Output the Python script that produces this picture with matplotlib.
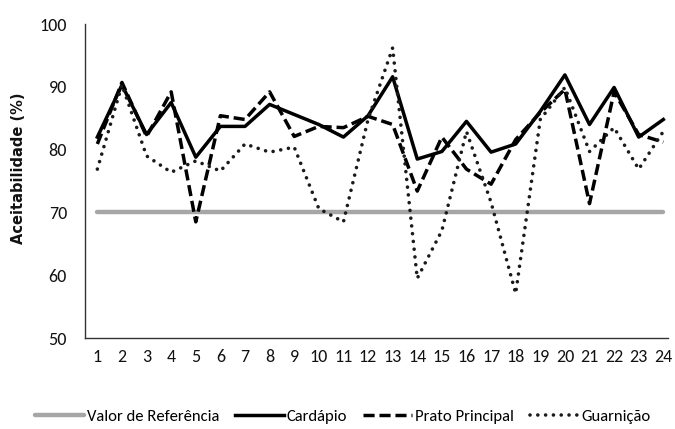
import matplotlib.pyplot as plt
from matplotlib import font_manager

dias = list(range(1, 25))
referencia = [70] * 24
cardapio = [82.0, 90.3, 82.4, 87.5, 78.8, 83.7, 83.7, 87.2, 85.6, 84.0, 82.0, 85.4,
            91.6, 78.5, 79.7, 84.5, 79.6, 80.9, 86.1, 91.9, 84.0, 89.9, 82.0, 84.8]
prato = [80.9, 90.7, 82.1, 89.2, 68.5, 85.4, 84.8, 89.2, 82.1, 83.7, 83.5, 85.3,
         84.0, 73.4, 82.0, 76.9, 74.5, 81.6, 85.9, 89.6, 71.4, 89.2, 82.4, 81.2]
guarnicao = [76.9, 90.3, 79.0, 76.4, 78.2, 76.6, 80.9, 79.6, 80.4, 70.6, 68.5, 84.8,
             96.2, 59.5, 67.1, 82.9, 71.6, 57.1, 84.8, 89.9, 79.7, 83.5, 76.9, 82.9]

# Calibri-like font if there is one, else a plain sans
names = {f.name for f in font_manager.fontManager.ttflist}
narrow = "Liberation Sans"
for cand in ["Carlito", "Liberation Sans Narrow", "Open Sans Condensed", "Roboto Condensed"]:
    if cand in names:
        narrow = cand
        break
size = 12 if narrow != "Liberation Sans" else 10.5

plt.rcParams["font.family"] = [narrow, "DejaVu Sans"]

fig = plt.figure(figsize=(6.75, 4.29), dpi=100)
ax = fig.add_axes([0.126, 0.212, 0.864, 0.732])

ax.plot(dias, referencia, color="#a6a6a6", lw=3.2, solid_capstyle="round", label="Valor de Referência")
ax.plot(dias, cardapio, color="black", lw=2.5, label="Cardápio")
ax.plot(dias, prato, color="black", lw=2.5, dashes=(3.2, 1.4), label="Prato Principal")
ax.plot(dias, guarnicao, color="#1a1a1a", lw=2.6, dashes=(0.01, 2.15), dash_capstyle="round",
        label="Guarnição")

ax.set_xlim(0.5, 24.2)
ax.set_ylim(50, 100)
ax.set_xticks(dias)
ax.set_yticks(range(50, 101, 10))
ax.tick_params(length=0, labelsize=size + 1, colors="#111111")
ax.tick_params(axis="x", pad=8)
ax.tick_params(axis="y", pad=13)
for s in ["top", "right"]:
    ax.spines[s].set_visible(False)
for s in ["left", "bottom"]:
    ax.spines[s].set_color("#333333")
    ax.spines[s].set_linewidth(1)

fig.text(0.027, 0.608, "Aceitabilidade (%)", rotation=90, ha="center", va="center",
         fontsize=10.5, fontweight="bold", family="DejaVu Sans", color="#111111")

fig.legend(loc="center", bbox_to_anchor=(0.508, 0.028), ncol=4, frameon=False,
           handlelength=2.9, handletextpad=0.2, columnspacing=0.95,
           prop={"size": size})

fig.savefig("out.png", dpi=100)
